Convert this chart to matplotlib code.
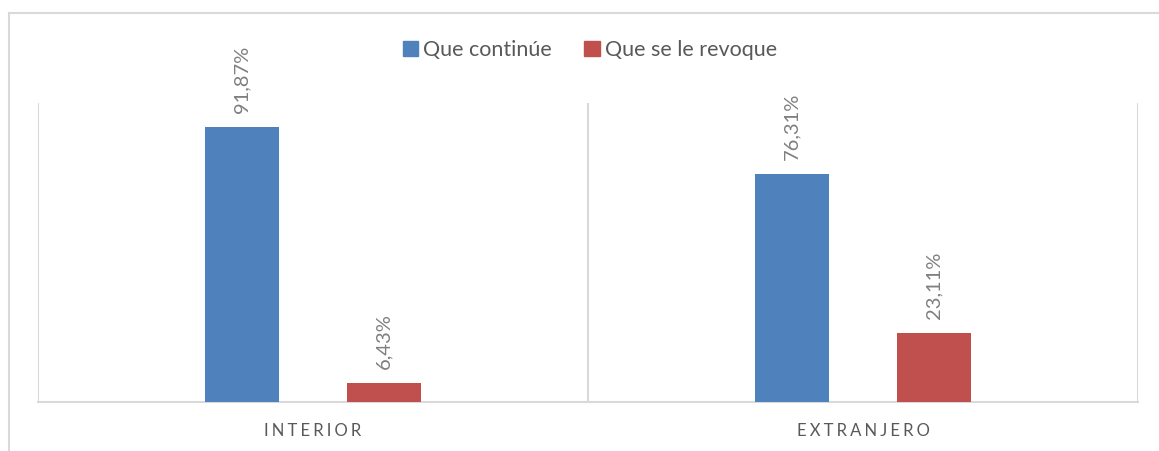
import matplotlib
matplotlib.use("Agg")
import matplotlib.pyplot as plt
from matplotlib.lines import Line2D
from matplotlib.patches import Patch

categories = ["INTERIOR", "EXTRANJERO"]
series_names = ["Que continúe", "Que se le revoque"]
continua = [91.87, 76.31]
revoca = [6.43, 23.11]
labels_continua = ["91,87%", "76,31%"]
labels_revoca = ["6,43%", "23,11%"]

BLUE = "#4F81BD"
RED = "#C0504D"
GRID = "#D9D9D9"
TXT = "#595959"
LBL = "#7F7F7F"
FONT = ["Lato", "DejaVu Sans"]

W, H = 1159, 451
fig = plt.figure(figsize=(W / 100, H / 100), dpi=100)
fig.patch.set_facecolor("white")

# outer chart border (top & left visible)
fig.add_artist(Line2D([8.5 / W, 1.0], [1 - 12.5 / H, 1 - 12.5 / H], color=GRID, lw=1.5, transform=fig.transFigure))
fig.add_artist(Line2D([8.5 / W, 8.5 / W], [0, 1 - 12.5 / H], color=GRID, lw=1.5, transform=fig.transFigure))

ax = fig.add_axes([38 / W, 49 / H, 1100 / W, 299 / H])
ax.set_xlim(0, 2)
ax.set_ylim(0, 100)

bw = 0.1345
off = 0.129
xs = [0.5, 1.5]
b1 = ax.bar([x - off for x in xs], continua, width=bw, color=BLUE, label=series_names[0], zorder=3)
b2 = ax.bar([x + off for x in xs], revoca, width=bw, color=RED, label=series_names[1], zorder=3)

for rect, lab in zip(b1, labels_continua):
    ax.annotate(lab, (rect.get_x() + rect.get_width() / 2, rect.get_height()), xytext=(0, 14),
                textcoords="offset pixels", rotation=90, ha="center", va="bottom",
                color=LBL, fontsize=14.5, family=FONT)
for rect, lab in zip(b2, labels_revoca):
    ax.annotate(lab, (rect.get_x() + rect.get_width() / 2, rect.get_height()), xytext=(0, 14),
                textcoords="offset pixels", rotation=90, ha="center", va="bottom",
                color=LBL, fontsize=14.5, family=FONT)

# vertical category gridlines
for xv in [0, 1, 2]:
    ax.axvline(xv, color=GRID, lw=1.5, zorder=1)

for s in ["top", "left", "right"]:
    ax.spines[s].set_visible(False)
ax.spines["bottom"].set_color(GRID)
ax.spines["bottom"].set_linewidth(1.5)
ax.set_yticks([])
ax.set_xticks(xs)
ax.set_xticklabels(["\u2009\u200a".join(c) for c in categories], family=FONT, fontsize=12, color=TXT)
ax.tick_params(axis="x", length=0, pad=15)

handles = [Patch(color=BLUE), Patch(color=RED)]
leg = fig.legend(handles, series_names, loc="center", bbox_to_anchor=(590 / W, 1 - 50 / H),
                 ncol=2, frameon=False, handlelength=0.7, handleheight=0.7, handletextpad=0.25,
                 columnspacing=1.5, prop={"family": FONT, "size": 15.5})
for t in leg.get_texts():
    t.set_color(TXT)

fig.savefig("out.png", dpi=100, facecolor="white")
